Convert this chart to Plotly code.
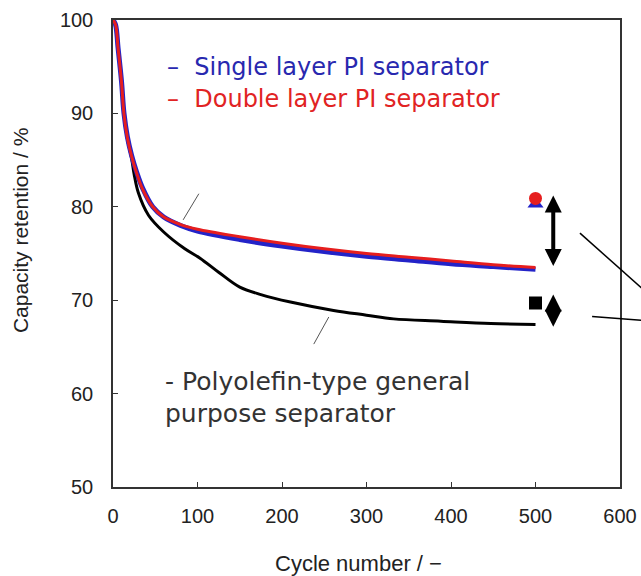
import plotly.graph_objects as go

# ---- data ----
cycles_pi = [0, 3, 6, 10, 13, 17, 22, 28, 35, 47, 60, 80, 100, 150, 200, 250, 300, 350, 400, 450, 500]
single_pi = [100, 99.5, 97.0, 93.5, 90.0, 87.5, 85.5, 83.7, 82.0, 80.0, 78.9, 78.0, 77.4, 76.5, 75.8, 75.2, 74.7, 74.3, 73.9, 73.6, 73.3]
double_pi = [100, 99.5, 97.0, 93.4, 89.9, 87.4, 85.4, 83.6, 81.9, 80.0, 78.9, 78.1, 77.6, 76.8, 76.1, 75.5, 75.0, 74.6, 74.2, 73.8, 73.5]

cycles_po = [0, 3, 6, 10, 13, 17, 22, 25, 30, 42, 60, 85, 103, 125, 150, 175, 210, 261, 300, 332, 388, 447, 500]
polyolefin = [100, 99.5, 97.0, 93.4, 89.9, 87.3, 85.2, 83.5, 81.5, 79.1, 77.3, 75.5, 74.5, 73.0, 71.4, 70.6, 69.8, 68.9, 68.4, 68.0, 67.75, 67.5, 67.4]

marker_x = [500]
single_marker = [80.3]
double_marker = [80.9]
poly_marker = [69.7]

arrow_x = 521
big_arrow = [81.2, 73.5]
small_arrow = [70.6, 67.0]

x_ticks = [0, 100, 200, 300, 400, 500, 600]
y_ticks = [50, 60, 70, 80, 90, 100]

BLUE = "rgb(35,35,200)"
RED = "rgb(230,30,30)"
TXT_FONT = "DejaVu Sans, Open Sans, sans-serif"
AX_FONT = "Liberation Sans, Arial, sans-serif"

fig = go.Figure()
fig.add_trace(go.Scatter(x=cycles_po, y=polyolefin, mode="lines", line=dict(color="black", width=3, shape="spline"), showlegend=False))
fig.add_trace(go.Scatter(x=cycles_pi, y=single_pi, mode="lines", line=dict(color=BLUE, width=5, shape="spline"), showlegend=False))
fig.add_trace(go.Scatter(x=cycles_pi, y=double_pi, mode="lines", line=dict(color=RED, width=3, shape="spline"), showlegend=False))

fig.add_trace(go.Scatter(x=marker_x, y=single_marker, mode="markers", marker=dict(symbol="triangle-up", size=14, color=BLUE), showlegend=False, cliponaxis=False))
fig.add_trace(go.Scatter(x=marker_x, y=double_marker, mode="markers", marker=dict(symbol="circle", size=13, color=RED), showlegend=False, cliponaxis=False))
fig.add_trace(go.Scatter(x=marker_x, y=poly_marker, mode="markers", marker=dict(symbol="square", size=13, color="black"), showlegend=False, cliponaxis=False))

annotations = []
for seg in (big_arrow, small_arrow):
    annotations.append(dict(x=arrow_x, y=seg[0], ax=arrow_x, ay=seg[1], xref="x", yref="y", axref="x", ayref="y",
                            text="", showarrow=True, arrowside="end+start", arrowhead=2, startarrowhead=2,
                            arrowsize=0.85, startarrowsize=0.85, arrowwidth=4, arrowcolor="black",
                            standoff=0, startstandoff=0))

annotations += [
    dict(x=61.7, y=94.95, xref="x", yref="y", text="\u2013\u00a0\u00a0Single layer PI separator", showarrow=False,
         xanchor="left", yanchor="middle", font=dict(family=TXT_FONT, size=24, color="rgb(40,40,175)")),
    dict(x=61.7, y=91.5, xref="x", yref="y", text="\u2013\u00a0\u00a0Double layer PI separator", showarrow=False,
         xanchor="left", yanchor="middle", font=dict(family=TXT_FONT, size=24, color="rgb(225,35,35)")),
    dict(x=59.3, y=61.25, xref="x", yref="y", text="- Polyolefin-type general", showarrow=False,
         xanchor="left", yanchor="middle", font=dict(family=TXT_FONT, size=25, color="#333333")),
    dict(x=59.3, y=57.85, xref="x", yref="y", text="purpose separator", showarrow=False,
         xanchor="left", yanchor="middle", font=dict(family=TXT_FONT, size=25, color="#333333")),
    dict(x=-0.1834, y=0.548, xref="paper", yref="paper", text="Capacity retention / %", showarrow=False, textangle=-90,
         xanchor="center", yanchor="middle", font=dict(family=AX_FONT, size=21, color="#222222")),
    dict(x=0.485, y=-0.1635, xref="paper", yref="paper", text="Cycle number / \u2212", showarrow=False,
         xanchor="center", yanchor="middle", font=dict(family=AX_FONT, size=22, color="#222222")),
]

shapes = [
    dict(type="line", xref="x", yref="y", x0=101.6, y0=81.4, x1=83.0, y1=78.6, line=dict(color="#555555", width=1)),
    dict(type="line", xref="x", yref="y", x0=255.4, y0=68.2, x1=237.6, y1=65.3, line=dict(color="#555555", width=1)),
    dict(type="line", xref="paper", yref="paper", x0=0.921, y0=0.5436, x1=1.079, y1=0.391, line=dict(color="black", width=1.5)),
    dict(type="line", xref="paper", yref="paper", x0=0.945, y0=0.365, x1=1.08, y1=0.354, line=dict(color="black", width=1.5)),
]

axis_common = dict(showline=True, linecolor="#333333", linewidth=1.5, mirror=True, ticks="inside", ticklen=5,
                   tickcolor="#333333", showgrid=False, zeroline=False, automargin=False,
                   tickfont=dict(family=AX_FONT, size=20, color="#222222"))

fig.update_layout(
    width=641, height=576,
    margin=dict(l=113, r=21, t=20, b=89),
    paper_bgcolor="white", plot_bgcolor="white",
    xaxis=dict(range=[0, 600], tickvals=x_ticks, ticklabelstandoff=10, **axis_common),
    yaxis=dict(range=[50, 100], tickvals=y_ticks, ticklabelstandoff=14, **axis_common),
    annotations=annotations, shapes=shapes, showlegend=False,
)

fig.write_html("out.html", config={"displayModeBar": False},
               post_script="document.body.style.margin='0';document.body.style.overflow='hidden';")
